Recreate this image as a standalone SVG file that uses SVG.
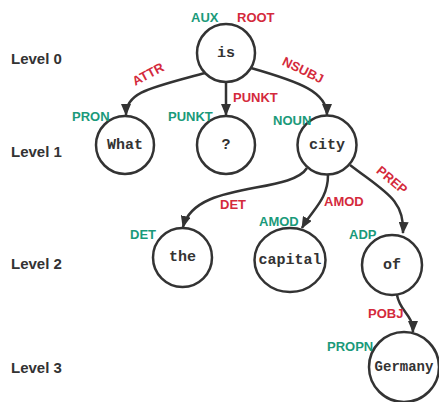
<svg xmlns="http://www.w3.org/2000/svg" width="439" height="402" viewBox="0 0 439 402">
<defs>
<marker id="ah" viewBox="0 0 12 10" refX="11" refY="5" markerWidth="12" markerHeight="10" markerUnits="userSpaceOnUse" orient="auto">
<path d="M0,0 L12,5 L0,10 Z" fill="#333"/>
</marker>
<style>
.node circle, .node ellipse { fill: #fff; stroke: #333; stroke-width: 2.5; }
.word { font-family: "Liberation Mono", "DejaVu Sans Mono", monospace; font-weight: bold; font-size: 15px; fill: #333; text-anchor: middle; dominant-baseline: central; }
.pos { font-family: "Liberation Sans", Arial, sans-serif; font-weight: bold; font-size: 13px; fill: #1a9a7a; }
.dep { font-family: "Liberation Sans", Arial, sans-serif; font-weight: bold; font-size: 13px; fill: #d42a3c; }
.lvl { font-family: "Liberation Sans", Arial, sans-serif; font-weight: bold; font-size: 15px; fill: #333; }
.edge { fill: none; stroke: #333; stroke-width: 2.5; marker-end: url(#ah); }
</style>
</defs>
<rect width="439" height="402" fill="#fff"/>
<g id="levels">
<text class="lvl" x="11" y="64">Level 0</text>
<text class="lvl" x="11" y="157">Level 1</text>
<text class="lvl" x="11" y="269">Level 2</text>
<text class="lvl" x="11" y="373">Level 3</text>
</g>
<g id="connectors">
<path class="edge" d="M205,73 C150,88 126,92 126,115"/>
<path class="edge" d="M226,83 L226,115"/>
<path class="edge" d="M251,68 C300,82 327,92 327,115"/>
<path class="edge" d="M307,168 C290,195 195,180 183,227"/>
<path class="edge" d="M328,175 C328,200 312,210 302,228"/>
<path class="edge" d="M350,165 C385,192 405,200 403,233"/>
<path class="edge" d="M397,295 C400,312 413,314 413,332"/>
<text class="dep" transform="translate(148,74) rotate(-28)" text-anchor="middle" dominant-baseline="central">ATTR</text>
<text class="dep" x="233" y="102">PUNKT</text>
<text class="dep" transform="translate(303,70) rotate(26)" text-anchor="middle" dominant-baseline="central">NSUBJ</text>
<text class="dep" x="220" y="209">DET</text>
<text class="dep" x="324" y="206">AMOD</text>
<text class="dep" transform="translate(392,180) rotate(40)" text-anchor="middle" dominant-baseline="central">PREP</text>
<text class="dep" x="368" y="318">POBJ</text>
</g>
<g id="is" class="node">
<circle cx="226" cy="53" r="29"/>
<text class="word" x="226" y="53">is</text>
<text class="pos" x="191" y="22">AUX</text>
<text class="dep" x="237" y="22">ROOT</text>
</g>
<g id="what" class="node">
<circle cx="125" cy="145" r="29"/>
<text class="word" x="125" y="145">What</text>
<text class="pos" x="72" y="121">PRON</text>
</g>
<g id="punct" class="node">
<circle cx="226" cy="145" r="29"/>
<text class="word" x="226" y="145">?</text>
<text class="pos" x="168" y="121">PUNKT</text>
</g>
<g id="city" class="node">
<circle cx="327" cy="145" r="29.5"/>
<text class="word" x="327" y="145">city</text>
<text class="pos" x="273" y="125">NOUN</text>
</g>
<g id="the" class="node">
<circle cx="182.5" cy="257.5" r="29.5"/>
<text class="word" x="182.5" y="257.5">the</text>
<text class="pos" x="130" y="239">DET</text>
</g>
<g id="capital" class="node">
<ellipse cx="290" cy="260" rx="35.5" ry="32"/>
<text class="word" x="290" y="260">capital</text>
<text class="pos" x="259" y="226">AMOD</text>
</g>
<g id="of" class="node">
<circle cx="392" cy="265" r="30"/>
<text class="word" x="392" y="265">of</text>
<text class="pos" x="349" y="239">ADP</text>
</g>
<g id="germany" class="node">
<circle cx="404" cy="367" r="35"/>
<text class="word" x="404" y="367" style="font-size:14px">Germany</text>
<text class="pos" x="327" y="351">PROPN</text>
</g>
</svg>
